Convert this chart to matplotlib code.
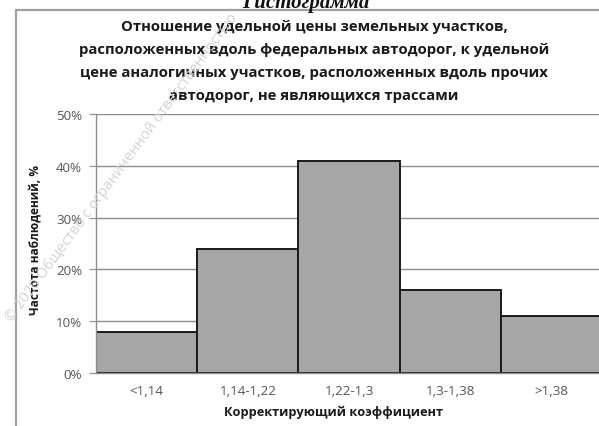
import matplotlib
matplotlib.use("Agg")
from matplotlib import pyplot as plt
from matplotlib.patches import Rectangle
from matplotlib.ticker import PercentFormatter

# Histogram data: share of observations per coefficient range
categories = ["<1,14", "1,14-1,22", "1,22-1,3", "1,3-1,38", ">1,38"]
shares = [8, 24, 41, 16, 11]
y_ticks = [0, 10, 20, 30, 40, 50]

title_lines = [
    "Отношение удельной цены земельных участков,",
    "расположенных вдоль федеральных автодорог, к удельной",
    "цене аналогичных участков, расположенных вдоль прочих",
    "автодорог, не являющихся трассами",
]

plt.rcParams['font.family'] = ['Open Sans', 'DejaVu Sans']

W, H = 599, 427
fig = plt.figure(figsize=(W / 100, H / 100), dpi=100)
fig.patch.set_facecolor('white')


def fx(px):
    return px / W


def fy(py):
    return 1 - py / H


# Outer frame of the chart block
fig.patches.append(Rectangle((fx(16), fy(440)), fx(620), fy(11) - fy(440),
                             transform=fig.transFigure, fill=False,
                             edgecolor='#a0a0a0', linewidth=1.6))

# Page heading above the chart, partly cut by the top edge
fig.text(fx(306), fy(3), "Гистограмма", ha='center', va='center',
         family='Liberation Serif', style='italic', fontweight='bold',
         fontsize=15, color='#111111')

# Chart title
for i, line in enumerate(title_lines):
    fig.text(fx(314), fy(27 + 23 * i), line, ha='center', va='center',
             fontsize=10.7, fontweight='bold', color='#1a1a1a')

ax = fig.add_axes([fx(96), fy(374), fx(506), fy(115) - fy(374)])
ax.set_facecolor('white')
ax.bar(range(len(categories)), shares, width=1.0, color='#a6a6a6',
       edgecolor='#1a1a1a', linewidth=1.4, zorder=3)

ax.set_xlim(-0.5, len(categories) - 0.5)
ax.set_ylim(0, 50)
ax.set_yticks(y_ticks)
ax.yaxis.set_major_formatter(PercentFormatter(decimals=0))
ax.set_xticks(range(len(categories)))
ax.set_xticklabels(categories)
ax.grid(axis='y', color='#8c8c8c', linewidth=1.0, zorder=0)
ax.tick_params(axis='x', length=0, pad=8, labelsize=9.6, labelcolor='#555555')
ax.tick_params(axis='y', length=5, color='#8c8c8c', pad=5, labelsize=9.6,
               labelcolor='#555555')
for side in ('top', 'right'):
    ax.spines[side].set_visible(False)
for side in ('left', 'bottom'):
    ax.spines[side].set_color('#8c8c8c')
    ax.spines[side].set_linewidth(1.0)
    ax.spines[side].set_zorder(4)

fig.text(fx(35), fy(240), "Частота наблюдений, %", rotation=90,
         ha='center', va='center', fontsize=8.6, fontweight='bold',
         color='#1a1a1a')
fig.text(fx(334), fy(412), "Корректирующий коэффициент", ha='center',
         va='center', fontsize=9.2, fontweight='bold', color='#1a1a1a')

# Diagonal copyright watermark
fig.text(fx(122), fy(168), "© 2020 Общество с ограниченной ответственностью",
         rotation=53.5, ha='center', va='center', fontsize=10.5,
         color='#d2d2d2', zorder=10)

fig.savefig("out.png", dpi=100)
